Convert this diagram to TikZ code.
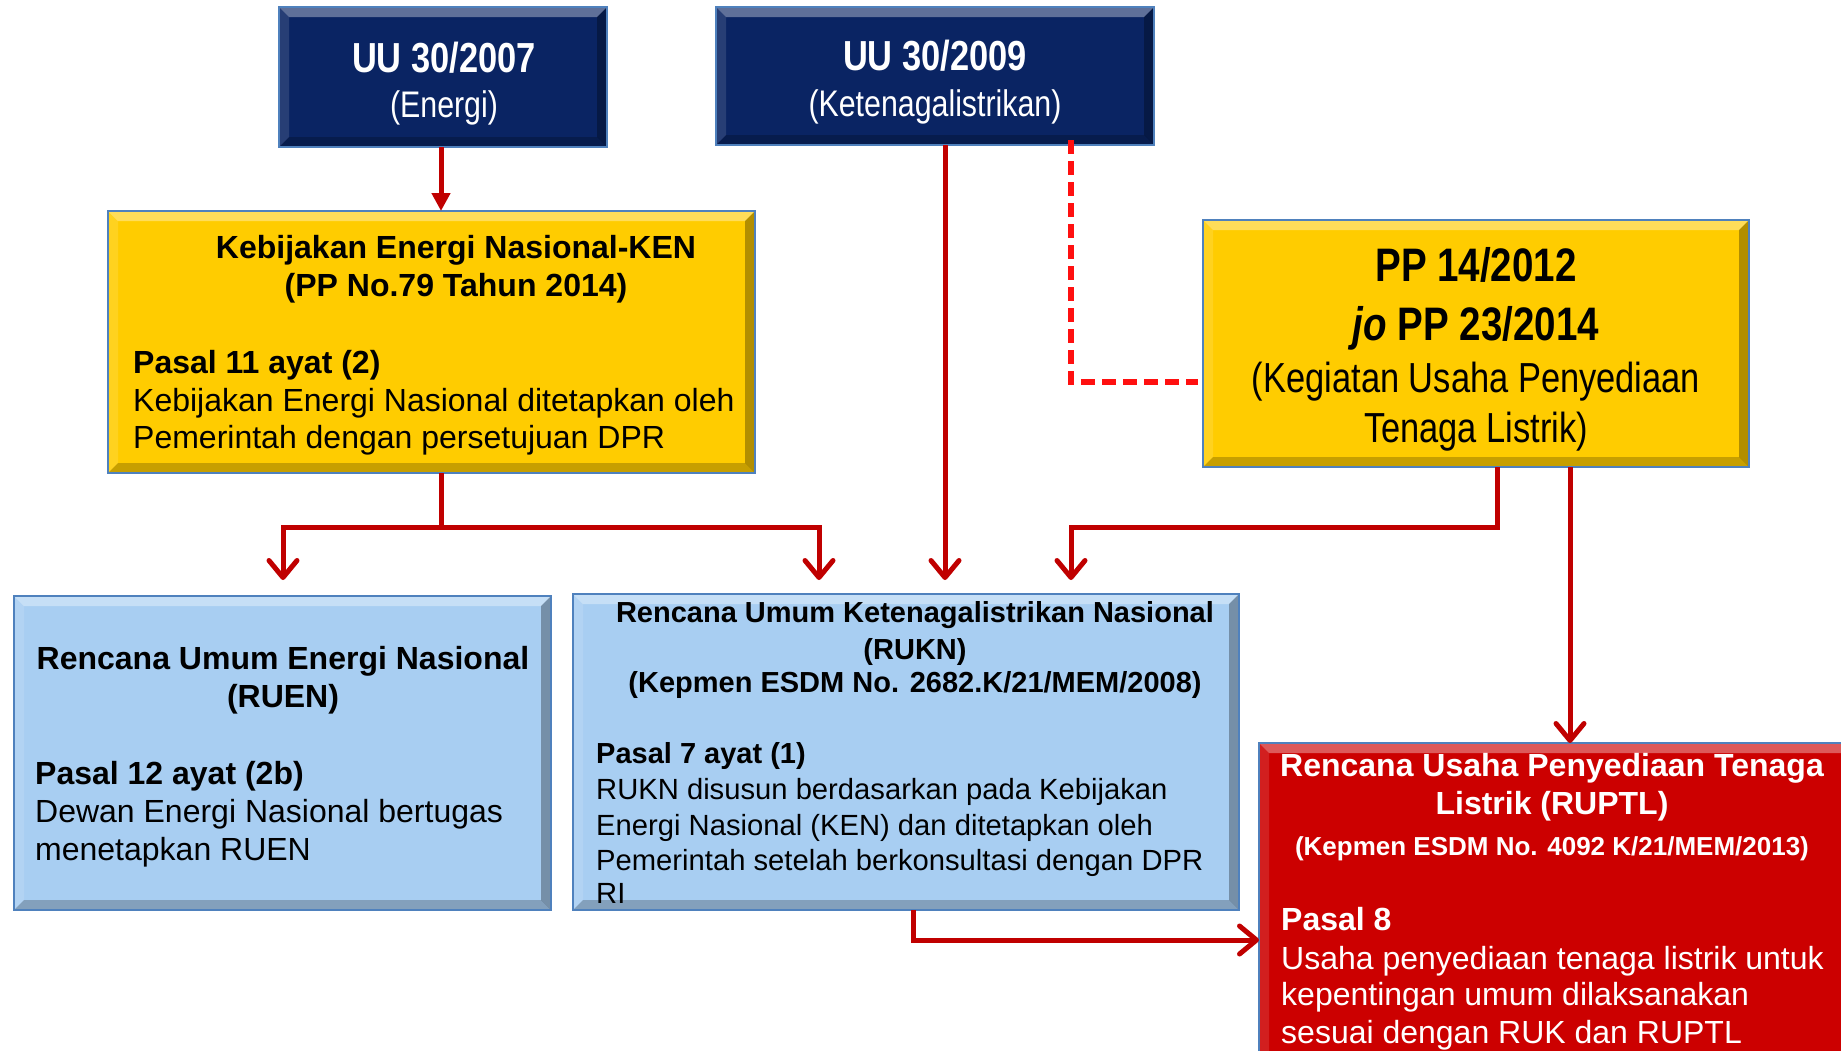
\documentclass[tikz,border=0pt]{standalone}
\usepackage{fontspec}
\setmainfont{Liberation Sans}
\newfontfamily\narrowfont[FakeStretch=0.82]{Liberation Sans}
\usetikzlibrary{arrows.meta,calc}
\pgfdeclarelayer{bg}
\pgfsetlayers{bg,main}
\definecolor{navy}{RGB}{10,36,99}
\definecolor{gold}{RGB}{255,204,0}
\definecolor{lblue}{RGB}{168,206,242}
\definecolor{boxred}{RGB}{204,0,0}
\definecolor{arrowred}{RGB}{192,0,0}
\definecolor{dashred}{RGB}{255,16,16}
\definecolor{edgeblue}{RGB}{79,129,189}
\newcommand{\fsz}[1]{\fontsize{#1}{#1}\selectfont}
\newcommand{\mybevel}[1]{%
  \fill[white,fill opacity=.35] (#1.north west) -- (#1.north east) -- ([shift={(-10,10)}]#1.north east) -- ([shift={(10,10)}]#1.north west) -- cycle;
  \fill[white,fill opacity=.12] (#1.north west) -- ([shift={(10,10)}]#1.north west) -- ([shift={(10,-10)}]#1.south west) -- (#1.south west) -- cycle;
  \fill[black,fill opacity=.3] (#1.north east) -- (#1.south east) -- ([shift={(-10,-10)}]#1.south east) -- ([shift={(-10,10)}]#1.north east) -- cycle;
  \fill[black,fill opacity=.22] (#1.south west) -- ([shift={(10,-10)}]#1.south west) -- ([shift={(-10,-10)}]#1.south east) -- (#1.south east) -- cycle;
  \draw[edgeblue,line width=1.5pt] (#1.north west) rectangle (#1.south east);
}
\newcommand{\myshadow}[1]{%
  \begin{pgfonlayer}{bg}
  \foreach \s in {2,4,6,8,10}{\fill[black,fill opacity=.06] ([shift={(4,4)}]#1.north west) rectangle ([shift={(\s,\s)}]#1.south east);}
  \end{pgfonlayer}}
\begin{document}
\begin{tikzpicture}[x=1pt,y=-1pt,
  box/.style={inner sep=0pt, outer sep=0pt, anchor=north west},
  ctr/.style={inner sep=0pt, anchor=base},
  lft/.style={inner sep=0pt, anchor=base west},
  conn/.style={draw=arrowred, line width=5pt},
  conna/.style={conn, -{Straight Barb[length=17pt,width=28pt,line cap=round,line join=round]}},
  conntri/.style={conn, -{Triangle[length=18pt,width=18pt]}},
  dashc/.style={draw=dashred, line width=6.5pt, dash pattern=on 14pt off 7pt}]
\useasboundingbox (0,0) rectangle (1841,1050);
\fill[white] (0,0) rectangle (1841,1050);
\clip (0,0) rectangle (1841,1050);

% boxes
\node[box, fill=navy, minimum width=328pt, minimum height=140pt] (uu7) at (279,7) {};
\mybevel{uu7}\myshadow{uu7}
\node[box, fill=navy, minimum width=438pt, minimum height=138pt] (uu9) at (716,7) {};
\mybevel{uu9}\myshadow{uu9}
\node[box, fill=gold, minimum width=647pt, minimum height=262pt] (ken) at (108,211) {};
\mybevel{ken}\myshadow{ken}
\node[box, fill=gold, minimum width=546pt, minimum height=247pt] (pp) at (1203,220) {};
\mybevel{pp}\myshadow{pp}
\node[box, fill=lblue, minimum width=537pt, minimum height=314pt] (ruen) at (14,596) {};
\mybevel{ruen}\myshadow{ruen}
\node[box, fill=lblue, minimum width=666pt, minimum height=316pt] (rukn) at (573,594) {};
\mybevel{rukn}\myshadow{rukn}
\node[box, fill=boxred, minimum width=601pt, minimum height=327pt] (ruptl) at (1259,743) {};
\mybevel{ruptl}\myshadow{ruptl}

% texts
\node[ctr, text=white, font=\narrowfont\bfseries\fsz{42}] (uu7a) at (444,72) {UU 30/2007};
\node[ctr, text=white, font=\narrowfont\fsz{37}] (uu7b) at (444,117) {(Energi)};
\node[ctr, text=white, font=\narrowfont\bfseries\fsz{42}] (uu9a) at (935,70) {UU 30/2009};
\node[ctr, text=white, font=\narrowfont\fsz{37}] (uu9b) at (935,116) {(Ketenagalistrikan)};

\node[ctr, font=\bfseries\fsz{32}] (kena) at (456,258) {Kebijakan Energi Nasional-KEN};
\node[ctr, font=\bfseries\fsz{32}] (kenb) at (456,296) {(PP No.79 Tahun 2014)};
\node[lft, font=\bfseries\fsz{32}] (kenc) at (133,373) {Pasal 11 ayat (2)};
\node[lft, font=\fsz{32}] (kend) at (133,411) {Kebijakan Energi Nasional ditetapkan oleh};
\node[lft, font=\fsz{32}] (kene) at (133,448) {Pemerintah dengan persetujuan DPR};

\node[ctr, font=\narrowfont\bfseries\fsz{47}] (ppa) at (1476,281) {PP 14/2012};
\node[ctr, font=\narrowfont\bfseries\fsz{47}] (ppb) at (1476,340) {{\itshape jo} PP 23/2014};
\node[ctr, font=\narrowfont\fsz{42}] (ppc) at (1476,392) {(Kegiatan Usaha Penyediaan};
\node[ctr, font=\narrowfont\fsz{42}] (ppd) at (1476,442) {Tenaga Listrik)};

\node[ctr, font=\bfseries\fsz{32}] (ruena) at (283,669) {Rencana Umum Energi Nasional};
\node[ctr, font=\bfseries\fsz{32}] (ruenb) at (283,707) {(RUEN)};
\node[lft, font=\bfseries\fsz{32}] (ruenc) at (35,784) {Pasal 12 ayat (2b)};
\node[lft, font=\fsz{32}] (ruend) at (35,822) {Dewan Energi Nasional bertugas};
\node[lft, font=\fsz{32}] (ruene) at (35,860) {menetapkan RUEN};

\node[ctr, font=\bfseries\fsz{29}] (rukna) at (915,622) {Rencana Umum Ketenagalistrikan Nasional};
\node[ctr, font=\bfseries\fsz{29}] (ruknb) at (915,659) {(RUKN)};
\node[ctr, font=\bfseries\fsz{29}] (ruknc) at (915,692) {(Kepmen ESDM No. 2682.K/21/MEM/2008)};
\node[lft, font=\bfseries\fsz{29}] (ruknd) at (596,763) {Pasal 7 ayat (1)};
\node[lft, font=\fsz{29.2}] (rukne) at (596,799) {RUKN disusun berdasarkan pada Kebijakan};
\node[lft, font=\fsz{29.2}] (ruknf) at (596,835) {Energi Nasional (KEN) dan ditetapkan oleh};
\node[lft, font=\fsz{29.2}] (ruKng) at (596,870) {Pemerintah setelah berkonsultasi dengan DPR};
\node[lft, font=\fsz{29.2}] (ruknh) at (596,903) {RI};

\node[ctr, text=white, font=\bfseries\fsz{32}] (ruptla) at (1552,776) {Rencana Usaha Penyediaan Tenaga};
\node[ctr, text=white, font=\bfseries\fsz{32}] (ruptlb) at (1552,814) {Listrik (RUPTL)};
\node[ctr, text=white, font=\bfseries\fsz{26}] (ruptlc) at (1552,855) {(Kepmen ESDM No. 4092 K/21/MEM/2013)};
\node[lft, text=white, font=\bfseries\fsz{32}] (ruptld) at (1281,930) {Pasal 8};
\node[lft, text=white, font=\fsz{32}] (ruptle) at (1281,969) {Usaha penyediaan tenaga listrik untuk};
\node[lft, text=white, font=\fsz{32}] (ruptlf) at (1281,1005) {kepentingan umum dilaksanakan};
\node[lft, text=white, font=\fsz{32}] (ruptlg) at (1281,1043) {sesuai dengan RUK dan RUPTL};

% connector coordinates
\coordinate (a1) at (441,0);
\coordinate (kx) at (441,527);
\coordinate (ruenin) at (283,580);
\coordinate (ruknin1) at (819,580);
\coordinate (ruknin2) at (945,580);
\coordinate (dy) at (1071,382);
\coordinate (p1) at (1497,527);
\coordinate (ruknin3) at (1071,580);
\coordinate (p2) at (1570,0);
\coordinate (r1) at (913,940);

% connectors
\draw[conntri] (uu7.south -| a1) -- (ken.north -| a1);
\draw[conn] (ken.south -| kx) -- (kx);
\draw[conna] (kx) -| (ruenin);
\draw[conna] (kx) -| (ruknin1);
\draw[conna] (uu9.south -| ruknin2) -- (ruknin2);
\draw[dashc] ([yshift=5]uu9.south -| dy) -- (dy) -- ([xshift=-5]dy -| pp.west);
\draw[conna] (pp.south -| p1) -- (p1) -| (ruknin3);
\draw[conna] (pp.south -| p2) -- (ruptl.north -| p2);
\draw[conna] (rukn.south -| r1) -- (r1) -- (r1 -| ruptl.west);
\end{tikzpicture}
\end{document}
